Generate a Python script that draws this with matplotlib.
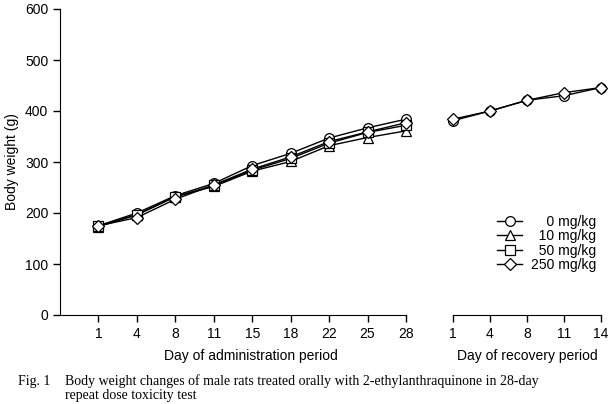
"Body weight changes of male rats, administration and recovery periods."
import matplotlib
matplotlib.use("Agg")
import matplotlib.pyplot as plt

plt.rcParams['font.family'] = ['Liberation Sans', 'DejaVu Sans']
plt.rcParams['font.size'] = 10

admin_days = ["1", "4", "8", "11", "15", "18", "22", "25", "28"]
recov_days = ["1", "4", "8", "11", "14"]

doses = ["0 mg/kg", "10 mg/kg", "50 mg/kg", "250 mg/kg"]
markers = ["o", "^", "s", "D"]

admin = {
    "0 mg/kg":   [175, 200, 234, 258, 293, 317, 347, 367, 384],
    "10 mg/kg":  [173, 197, 232, 252, 282, 301, 332, 348, 361],
    "50 mg/kg":  [175, 196, 232, 254, 284, 307, 337, 358, 372],
    "250 mg/kg": [175, 191, 227, 255, 286, 310, 340, 359, 377],
}
recovery = {
    "0 mg/kg":   [381, 400, 421, 430, 446],
    "250 mg/kg": [384, 400, 421, 436, 446],
}

labels = {"0 mg/kg": "    0 mg/kg", "10 mg/kg": "  10 mg/kg",
          "50 mg/kg": "  50 mg/kg", "250 mg/kg": "250 mg/kg"}

fig = plt.figure(figsize=(6.08, 4.04), dpi=100)
ax1 = fig.add_axes([60 / 608, 1 - 315 / 404, 346 / 608, 306 / 404])
ax2 = fig.add_axes([453 / 608, 1 - 315 / 404, 148 / 608, 306 / 404])

handles = []
for dose, m in zip(doses, markers):
    ms = 6 if m == "D" else 7
    h, = ax1.plot(range(len(admin_days)), admin[dose], color="black", lw=1,
                  marker=m, ms=ms, mfc="white", mec="black", mew=0.9,
                  label=labels[dose], clip_on=False)
    handles.append(h)
    if dose in recovery:
        ax2.plot(range(len(recov_days)), recovery[dose], color="black", lw=1,
                 marker=m, ms=ms, mfc="white", mec="black", mew=0.9,
                 clip_on=False)

for ax in (ax1, ax2):
    ax.set_ylim(0, 600)
    ax.spines["top"].set_visible(False)
    ax.spines["right"].set_visible(False)
    ax.tick_params(direction="out", length=5, width=1, labelsize=10)

ax1.set_xlim(-1, len(admin_days) - 1)
ax1.set_xticks(range(len(admin_days)))
ax1.set_xticklabels(admin_days)
ax1.set_yticks(range(0, 601, 100))
ax1.set_ylabel("Body weight (g)", labelpad=4)
ax1.set_xlabel("Day of administration period", labelpad=6)
ax1.xaxis.label.set_x(0.552)

ax2.set_xlim(0, len(recov_days) - 1)
ax2.set_xticks(range(len(recov_days)))
ax2.set_xticklabels(recov_days)
ax2.spines["left"].set_visible(False)
ax2.set_yticks([])
ax2.set_xlabel("Day of recovery period", labelpad=6)

ax2.legend(handles=handles, loc="upper right", bbox_to_anchor=(596 / 608, 1 - 215 / 404),
           bbox_transform=fig.transFigure, frameon=False, handlelength=1.8,
           handletextpad=0.6, labelspacing=0.02, borderpad=0, borderaxespad=0)

cap = dict(family=["Liberation Serif", "DejaVu Serif"], fontsize=10, va="center")
fig.text(18 / 608, 1 - 381 / 404, "Fig. 1", **cap)
fig.text(65 / 608, 1 - 381 / 404,
         "Body weight changes of male rats treated orally with 2-ethylanthraquinone in 28-day", **cap)
fig.text(65 / 608, 1 - 396 / 404, "repeat dose toxicity test", **cap)

fig.savefig("out.png", dpi=100)
